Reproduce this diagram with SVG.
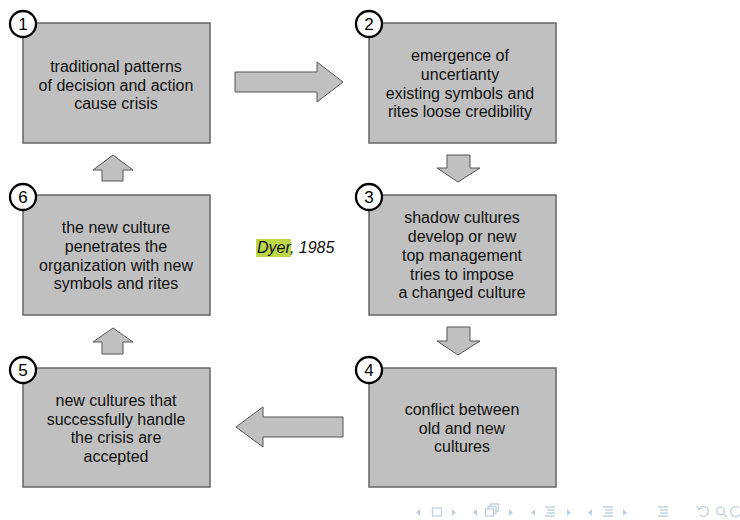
<svg xmlns="http://www.w3.org/2000/svg" width="740" height="520" viewBox="0 0 740 520">
  <style>
    .box { fill: #c0c0c0; stroke: #666666; stroke-width: 1.5; }
    .arrow { fill: #c0c0c0; stroke: #555555; stroke-width: 1; stroke-linejoin: miter; }
    .badge { fill: #ffffff; stroke: #000000; stroke-width: 2.3; }
    .num { font-family: "Liberation Sans", Arial, sans-serif; font-size: 17px; fill: #000; text-anchor: middle; }
    .lbl { font-family: "Liberation Sans", Arial, sans-serif; font-size: 16px; fill: #111; text-anchor: middle; }
    .cite { font-family: "Liberation Sans", Arial, sans-serif; font-size: 16px; font-style: italic; fill: #111; }
    .nav { fill: #c3d1de; stroke: none; }
    .navs { fill: none; stroke: #c3d1de; stroke-width: 1.3; }
  </style>

  <rect width="740" height="520" fill="#ffffff"/>

  <!-- connectors: block arrows between the stages -->
  <g id="connectors">
    <!-- 1 -> 2 -->
    <polygon class="arrow" points="235,72 317,72 317,62 343,82 317,102 317,92 235,92"/>
    <!-- 2 -> 3 -->
    <polygon class="arrow" points="447,155 470,155 470,168 480,168 458,182 437,168 447,168"/>
    <!-- 3 -> 4 -->
    <polygon class="arrow" points="447,327 470,327 470,341 480,341 458,355 437,341 447,341"/>
    <!-- 4 -> 5 -->
    <polygon class="arrow" points="343,417 263,417 263,407 236,427 263,447 263,437 343,437"/>
    <!-- 5 -> 6 -->
    <polygon class="arrow" points="102,354 123,354 123,342 133,342 113,328 93,342 102,342"/>
    <!-- 6 -> 1 -->
    <polygon class="arrow" points="102,181 123,181 123,170 133,170 113,155 93,170 102,170"/>
  </g>

  <g id="node1">
    <rect class="box" x="23" y="23" width="187" height="120"/>
    <text class="lbl" x="116" y="72">traditional patterns</text>
    <text class="lbl" x="116" y="90.5">of decision and action</text>
    <text class="lbl" x="116" y="109">cause crisis</text>
    <circle class="badge" cx="23" cy="24" r="13"/>
    <text class="num" x="23" y="30">1</text>
  </g>

  <g id="node2">
    <rect class="box" x="369" y="23" width="187" height="120"/>
    <text class="lbl" x="460" y="61">emergence of</text>
    <text class="lbl" x="460" y="80">uncertianty</text>
    <text class="lbl" x="460" y="99">existing symbols and</text>
    <text class="lbl" x="460" y="117">rites loose credibility</text>
    <circle class="badge" cx="369" cy="24" r="13"/>
    <text class="num" x="369" y="30">2</text>
  </g>

  <g id="node3">
    <rect class="box" x="369" y="195" width="187" height="120"/>
    <text class="lbl" x="462" y="223">shadow cultures</text>
    <text class="lbl" x="462" y="242">develop or new</text>
    <text class="lbl" x="462" y="261">top management</text>
    <text class="lbl" x="462" y="280">tries to impose</text>
    <text class="lbl" x="462" y="298">a changed culture</text>
    <circle class="badge" cx="369" cy="197" r="13"/>
    <text class="num" x="369" y="203">3</text>
  </g>

  <g id="node4">
    <rect class="box" x="369" y="368" width="187" height="119"/>
    <text class="lbl" x="462" y="415">conflict between</text>
    <text class="lbl" x="462" y="434">old and new</text>
    <text class="lbl" x="462" y="452">cultures</text>
    <circle class="badge" cx="369" cy="370" r="13"/>
    <text class="num" x="369" y="376">4</text>
  </g>

  <g id="node5">
    <rect class="box" x="23" y="368" width="187" height="119"/>
    <text class="lbl" x="116" y="406">new cultures that</text>
    <text class="lbl" x="116" y="425">successfully handle</text>
    <text class="lbl" x="116" y="443">the crisis are</text>
    <text class="lbl" x="116" y="462">accepted</text>
    <circle class="badge" cx="23" cy="370" r="13"/>
    <text class="num" x="23" y="376">5</text>
  </g>

  <g id="node6">
    <rect class="box" x="23" y="195" width="187" height="120"/>
    <text class="lbl" x="116" y="233">the new culture</text>
    <text class="lbl" x="116" y="252">penetrates the</text>
    <text class="lbl" x="116" y="271">organization with new</text>
    <text class="lbl" x="116" y="289">symbols and rites</text>
    <circle class="badge" cx="23" cy="197" r="13"/>
    <text class="num" x="23" y="203">6</text>
  </g>

  <!-- citation with highlighted author name -->
  <g id="citation">
    <rect x="256" y="239" width="35" height="18" fill="#bcd84a"/>
    <text class="cite" x="257" y="253">Dyer, 1985</text>
  </g>

  <!-- slide navigation controls -->
  <g id="navigation">
    <polygon class="nav" points="420,509 420,516 416,512.5"/>
    <rect class="navs" x="432.5" y="508" width="9" height="8"/>
    <polygon class="nav" points="452,509 452,516 456,512.5"/>

    <polygon class="nav" points="477,509 477,516 473,512.5"/>
    <rect class="navs" x="485.5" y="509" width="8" height="7"/>
    <path class="navs" d="M488,509 v-2.5 h8 v7 h-2.5 M490.5,506.5 v-2.5 h8 v7 h-2.5"/>
    <polygon class="nav" points="509,509 509,516 513,512.5"/>

    <polygon class="nav" points="535,509 535,516 531,512.5"/>
    <path class="navs" d="M545,507 h10 M547,510 h8 M547,513 h8 M545,516 h10"/>
    <polygon class="nav" points="567,509 567,516 571,512.5"/>

    <polygon class="nav" points="592,509 592,516 588,512.5"/>
    <path class="navs" d="M603,507 h10 M605,510 h8 M605,513 h8 M603,516 h10"/>
    <polygon class="nav" points="623,509 623,516 627,512.5"/>

    <path class="navs" d="M658,507 h10 M660,510 h8 M660,513 h8 M658,516 h10"/>

    <path class="navs" d="M699,509 a5,5 0 1 1 1,6 M697,506 l2,3.5 l3.5,-1.5"/>
    <circle class="navs" cx="720.5" cy="511" r="3.8"/>
    <path class="navs" d="M723.3,513.8 l3.5,3.5"/>
    <path class="navs" d="M739,508 a5,5 0 1 0 1,6"/>
  </g>
</svg>
